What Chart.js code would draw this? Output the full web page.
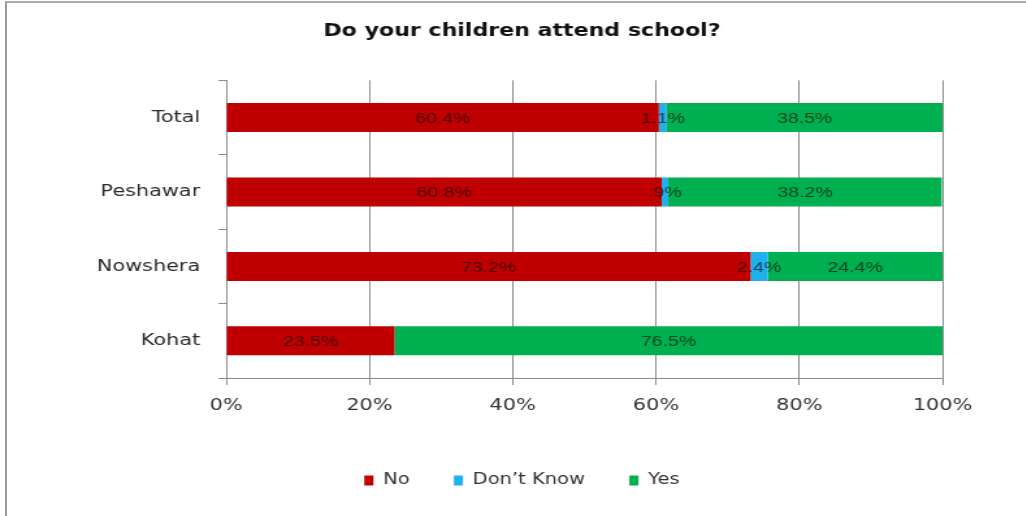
<!DOCTYPE html>
<html>
<head>
<meta charset="utf-8">
<script src="https://cdn.jsdelivr.net/npm/chart.js@4/dist/chart.umd.min.js"></script>
<style>
  html, body { margin: 0; padding: 0; background: #fff; overflow: hidden; }
  #frame {
    position: absolute; left: 5px; top: 1px; width: 1100px; height: 600px;
    border-left: 2px solid #999; border-top: 2px solid #aaa;
  }
  #schoolChart {
    position: absolute; left: 0; top: 0;
    transform: scaleX(1.3); transform-origin: 0 0;
  }
</style>
</head>
<body>
<div id="frame"></div>
<canvas id="schoolChart" width="790" height="516"></canvas>
<script>
const categories = ['Total', 'Peshawar', 'Nowshera', 'Kohat'];
const noValues = [60.4, 60.8, 73.2, 23.5];
const dontKnowValues = [1.1, 0.9, 2.4, 0];
const yesValues = [38.5, 38.2, 24.4, 76.5];
const xTickValues = [0, 20, 40, 60, 80, 100];

const fmtPct = v => v.toFixed(1).replace(/^0\./, '.') + '%';

// value labels centred on each segment
const segmentLabels = {
    id: 'segmentLabels',
    afterDatasetsDraw(chart) {
        const ctx = chart.ctx;
        ctx.save();
        ctx.font = '15px "Liberation Sans", Arial, sans-serif';
        ctx.fillStyle = 'rgba(0,0,0,0.62)';
        ctx.textAlign = 'center';
        ctx.textBaseline = 'middle';
        chart.data.datasets.forEach((ds, i) => {
            chart.getDatasetMeta(i).data.forEach((bar, j) => {
                const v = ds.data[j];
                if (!v) return;
                const p = bar.getCenterPoint();
                ctx.fillText(fmtPct(v), p.x, p.y + 1);
            });
        });
        ctx.restore();
    }
};

const ctx = document.getElementById('schoolChart').getContext('2d');
const gridGrey = '#8a8a8a';

const schoolChart = new Chart(ctx, {
    type: 'bar',
    data: {
        labels: categories,
        datasets: [
            { label: 'No', data: noValues, backgroundColor: '#C00000' },
            { label: "Don\u2019t Know", data: dontKnowValues, backgroundColor: '#1FB0EE' },
            { label: 'Yes', data: yesValues, backgroundColor: '#00B050' }
        ]
    },
    plugins: [segmentLabels],
    options: {
        indexAxis: 'y',
        responsive: false,
        animation: false,
        devicePixelRatio: 1,
        datasets: {
            bar: { borderWidth: 0, barPercentage: 0.39, categoryPercentage: 1 }
        },
        layout: { padding: { left: 13, right: 0, top: 0, bottom: 18 } },
        plugins: {
            title: {
                display: true,
                text: 'Do your children attend school?',
                color: '#111',
                font: { family: '"DejaVu Sans", Verdana, sans-serif', size: 17, weight: 'bold' },
                padding: { top: 21, bottom: 39 }
            },
            legend: {
                position: 'bottom',
                labels: {
                    boxWidth: 7,
                    boxHeight: 10,
                    padding: 34,
                    color: '#333',
                    font: { family: '"DejaVu Sans", Verdana, sans-serif', size: 15 }
                }
            },
            tooltip: { enabled: false }
        },
        scales: {
            x: {
                stacked: true,
                min: 0,
                max: 100,
                afterBuildTicks: scale => {
                    scale.ticks = xTickValues.map(v => ({ value: v }));
                },
                ticks: {
                    padding: 11,
                    color: '#333',
                    font: { family: '"DejaVu Sans", Verdana, sans-serif', size: 16 },
                    callback: v => v + '%'
                },
                grid: { color: gridGrey, tickLength: 7 },
                border: { color: gridGrey },
                afterFit: scale => { scale.height = 61; }
            },
            y: {
                stacked: true,
                ticks: {
                    padding: 14,
                    color: '#2a2a2a',
                    font: { family: '"DejaVu Sans", Verdana, sans-serif', size: 16 }
                },
                grid: { color: gridGrey, drawOnChartArea: false, tickLength: 6 },
                border: { color: gridGrey },
                afterFit: scale => { scale.width = 161; }
            },
            // empty right-hand axis keeps room after 100%
            yRight: {
                type: 'category',
                position: 'right',
                grid: { display: false },
                border: { display: false },
                ticks: { display: false },
                afterFit: scale => { scale.width = 65; }
            }
        }
    }
});
</script>
</body>
</html>
